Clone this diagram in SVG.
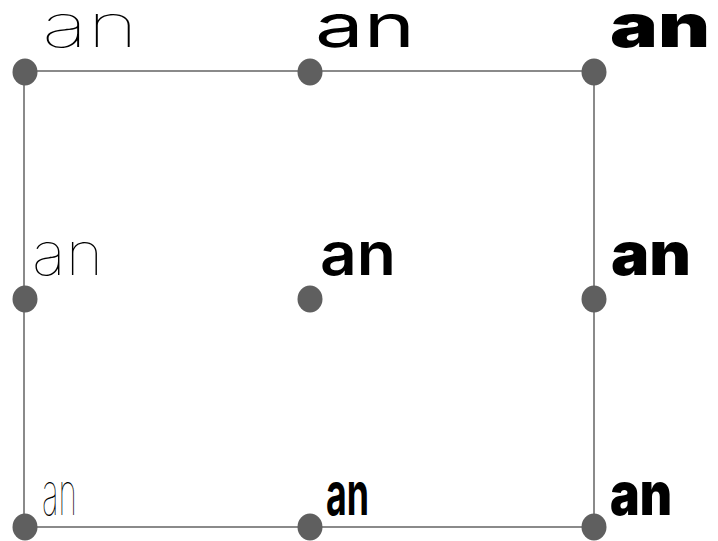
<svg xmlns="http://www.w3.org/2000/svg" width="718" height="541" viewBox="0 0 718 541">
<style>
.edge{stroke:#8a8a8a;stroke-width:2;fill:none}
.dot{fill:#5f5f5f}
.t{font-family:Inter,"Liberation Sans","DejaVu Sans",sans-serif;font-size:60px;fill:#000}
.w1{font-weight:100}
.w2a{font-weight:400}
.w2b{font-weight:600}
.w2c{font-weight:700}
.w3{font-weight:900}
</style>
<rect width="718" height="541" fill="#fff"/>
<g id="connectors">
<polyline class="edge" points="24,71 594,71"/>
<polyline class="edge" points="24,527 594,527"/>
<polyline class="edge" points="24,71 24,527"/>
<polyline class="edge" points="594,71 594,527"/>
</g>
<g id="n-wide-thin"><ellipse class="dot" cx="25" cy="72" rx="12.5" ry="13.5"/><text class="t w1" x="42" y="47" textLength="96" lengthAdjust="spacingAndGlyphs">an</text></g>
<g id="n-wide-regular"><ellipse class="dot" cx="310" cy="72" rx="12.5" ry="13.5"/><text class="t w2a" x="315" y="47" textLength="100" lengthAdjust="spacingAndGlyphs">an</text></g>
<g id="n-wide-black"><ellipse class="dot" cx="594" cy="72" rx="12.5" ry="13.5"/><text class="t w3" x="610" y="47" textLength="100" lengthAdjust="spacingAndGlyphs">an</text></g>
<g id="n-normal-thin"><ellipse class="dot" cx="25" cy="299" rx="12.5" ry="13.5"/><text class="t w1" x="32" y="275" textLength="71" lengthAdjust="spacingAndGlyphs">an</text></g>
<g id="n-normal-regular"><ellipse class="dot" cx="310" cy="299" rx="12.5" ry="13.5"/><text class="t w2b" x="320" y="275" textLength="76" lengthAdjust="spacingAndGlyphs">an</text></g>
<g id="n-normal-black"><ellipse class="dot" cx="594" cy="299" rx="12.5" ry="13.5"/><text class="t w3" x="611" y="275" textLength="80" lengthAdjust="spacingAndGlyphs">an</text></g>
<g id="n-narrow-thin"><ellipse class="dot" cx="25" cy="527" rx="12.5" ry="13.5"/><text class="t w1" x="42" y="515" textLength="35" lengthAdjust="spacingAndGlyphs">an</text></g>
<g id="n-narrow-regular"><ellipse class="dot" cx="310" cy="527" rx="12.5" ry="13.5"/><text class="t w2c" x="326" y="515" textLength="43" lengthAdjust="spacingAndGlyphs">an</text></g>
<g id="n-narrow-black"><ellipse class="dot" cx="594" cy="527" rx="12.5" ry="13.5"/><text class="t w3" x="610" y="515" textLength="62" lengthAdjust="spacingAndGlyphs">an</text></g>
</svg>
